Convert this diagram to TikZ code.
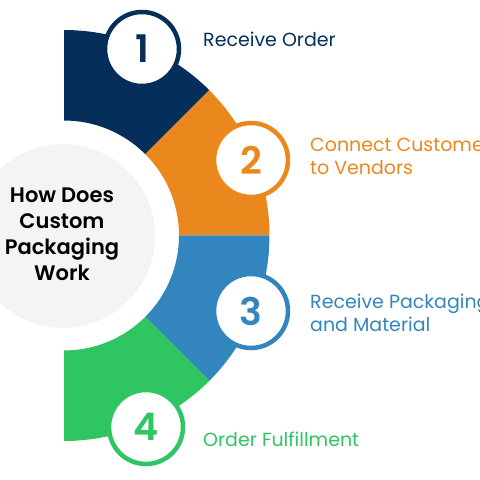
\documentclass[tikz,border=0pt]{standalone}
\usepackage{fontspec}
\setmainfont{Poppins}
\newfontfamily\popmed{Poppins}[UprightFont=* Medium]
\newfontfamily\popsemi{Poppins}[UprightFont=* SemiBold]
\definecolor{cnavy}{HTML}{052E5B}
\definecolor{corange}{HTML}{EA881D}
\definecolor{cblue}{HTML}{3386BD}
\definecolor{cgreen}{HTML}{2EC562}
\definecolor{cgray}{HTML}{F4F4F4}
\tikzset{
  numc/.style={circle, fill=white, line width=4.5pt, minimum size=74pt, inner sep=0pt,
    font=\fontsize{38}{38}\popsemi},
  lbl/.style={anchor=base west, align=left, inner sep=0pt,
    font=\fontsize{19}{23}\selectfont},
  titlec/.style={align=center, inner sep=0pt, font=\fontsize{21}{26}\popsemi}
}
\begin{document}
\begin{tikzpicture}[x=1pt,y=1pt]
\useasboundingbox (0,0) rectangle (480,480);
\clip (0,0) rectangle (480,480);
\coordinate (C) at (64,244.5);
% ring segments
\fill[cnavy] ([shift={(C)}]90:205.5) arc[start angle=90,end angle=45,radius=205.5pt]
  -- ([shift={(C)}]45:115) arc[start angle=45,end angle=90,radius=115pt] -- cycle;
\fill[corange] ([shift={(C)}]45:205.5) arc[start angle=45,end angle=0,radius=205.5pt]
  -- ([shift={(C)}]0:115) arc[start angle=0,end angle=45,radius=115pt] -- cycle;
\fill[cblue] ([shift={(C)}]0:205.5) arc[start angle=0,end angle=-45,radius=205.5pt]
  -- ([shift={(C)}]-45:115) arc[start angle=-45,end angle=0,radius=115pt] -- cycle;
\fill[cgreen] ([shift={(C)}]-45:205.5) arc[start angle=-45,end angle=-90,radius=205.5pt]
  -- ([shift={(C)}]-90:115) arc[start angle=-90,end angle=-45,radius=115pt] -- cycle;
% center circle
\node[circle, fill=cgray, minimum size=184pt, inner sep=0pt] (hub) at (63,244) {};
\node[titlec] (title) at (62,246) {How Does\\Custom\\Packaging\\Work};
% number circles
\node[numc, draw=cnavy, text=cnavy] (n1) at (142,431) {1};
\node[numc, draw=corange, text=corange] (n2) at (251,320) {2};
\node[numc, draw=cblue, text=cblue] (n3) at (251,169) {3};
\node[numc, draw=cgreen, text=cgreen] (n4) at (146,53) {4};
% labels
\node[lbl, text=cnavy] (l1) at (203,433) {Receive Order};
\node[lbl, text=corange] (l2) at (310,305) {Connect Customers\\to Vendors};
\node[lbl, text=cblue] (l3) at (310,148) {Receive Packaging\\and Material};
\node[lbl, text=cgreen] (l4) at (203,33) {Order Fulfillment};
\end{tikzpicture}
\end{document}
